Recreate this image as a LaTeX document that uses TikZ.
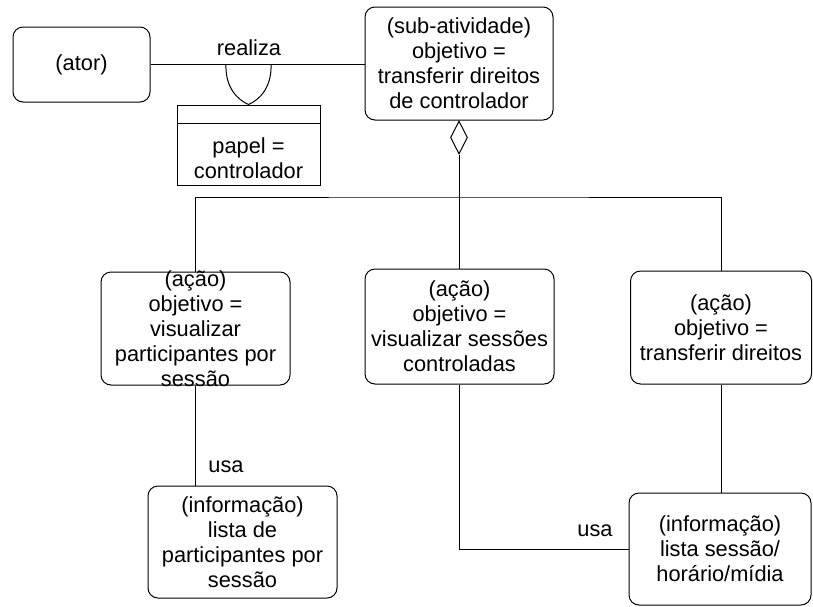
\documentclass[tikz,border=0pt]{standalone}
\usepackage{fontspec}
\setmainfont{Liberation Sans}
\usetikzlibrary{shapes.geometric}

\begin{document}
\begin{tikzpicture}[x=1pt, y=-1pt,
  rbox/.style={draw=black, line width=1pt, rounded corners=10pt, align=center, inner sep=0pt, font=\fontsize{21.8}{25}\selectfont},
  cbox/.style={draw=black, line width=1pt, inner sep=0pt, minimum width=143pt, minimum height=80pt},
  agg/.style={diamond, draw=black, line width=1pt, fill=white, inner sep=0pt, minimum width=17pt, minimum height=33pt},
  ed/.style={draw=black, line width=1pt},
  lab/.style={font=\fontsize{21.8}{25}\selectfont, inner sep=0pt}]
\useasboundingbox (0,0) rectangle (813,606);
% top row
\node[rbox, minimum width=137pt, minimum height=75pt] (ator) at (81.5,64.5) {(ator)};
\node[rbox, minimum width=188pt, minimum height=113pt] (sub) at (459,63.5) {(sub-atividade)\\objetivo =\\transferir direitos\\de controlador};
\node[cbox] (papel) at (248.5,145) {};
\node[lab, align=center] (papeltx) at (248.5,158.5) {papel =\\controlador};
\node[lab] (realiza) at (249,48) {realiza};
\node[agg, anchor=north] (dia) at (sub.south) {};
% actions
\node[rbox, minimum width=189pt, minimum height=113pt, inner ysep=-5pt] (act1) at (195.5,328.5) {(ação)\\objetivo =\\visualizar\\participantes por\\sessão};
\node[rbox, minimum width=189pt, minimum height=115pt] (act2) at (459.5,326.5) {(ação)\\objetivo =\\visualizar sessões\\controladas};
\node[rbox, minimum width=181pt, minimum height=113pt] (act3) at (721,327.5) {(ação)\\objetivo =\\transferir direitos};
% information
\node[rbox, minimum width=189pt, minimum height=112pt] (info1) at (242.5,542) {(informação)\\lista de\\participantes por\\sessão};
\node[rbox, minimum width=182pt, minimum height=112pt] (info2) at (720,549) {(informação)\\lista sessão/\\horário/mídia};
\node[lab] (usa1) at (226,467) {usa};
\node[lab] (usa2) at (595,531) {usa};
\coordinate (jn) at (459,197);
% connectors
\draw[ed] (ator.east) -- (ator.east -| sub.west);
\draw[ed] (226,64) .. controls (225,88) and (238,100) .. (papel.north) .. controls (259,100) and (272,88) .. (271,64);
\draw[ed] ([yshift=-19pt]papel.north west) -- ([yshift=-19pt]papel.north east);
\draw[ed] (dia.south) -- (dia.south |- act2.north);
\draw[ed] (act1.north) |- (jn) -| (act3.north);
\draw[ed] (act1.south) -- (act1.south |- info1.north);
\draw[ed] (act2.south) |- (info2.west);
\draw[ed] (act3.south) -- (act3.south |- info2.north);
\end{tikzpicture}
\end{document}
